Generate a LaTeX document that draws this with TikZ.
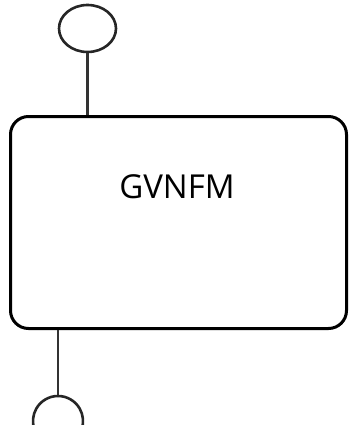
\documentclass[tikz,border=0pt]{standalone}
\usepackage{fontspec}
\setmainfont{Open Sans}
\usetikzlibrary{shapes.geometric}
\tikzset{
    iface/.style={draw=black!85, line width=2.6pt, ellipse, inner sep=0pt, minimum width=57pt, minimum height=47pt},
    vnfbox/.style={draw=black, line width=3pt, rounded corners=18pt, minimum width=336pt, minimum height=212pt},
    link/.style={draw=black!80, line width=2.6pt}
}
\begin{document}
\begin{tikzpicture}[x=1pt, y=1pt]
    \useasboundingbox (0,0) rectangle (351,-425);
    \node[vnfbox] (vnfm) at (178.5,-222.5) {};
    \node[iface] (top) at (87.5,-28.5) {};
    \node (name) at (177,-187) {\fontsize{33}{40}\selectfont GVNFM};
    \coordinate (bot) at (58,-396);
    \draw[link] (top.south) -- (top.south |- vnfm.north);
    \draw[link] (bot |- vnfm.south) -- (bot);
    \draw[link, draw=black!85] (bot) arc[start angle=90, end angle=200, radius=25];
    \draw[link, draw=black!85] (bot) arc[start angle=90, end angle=-20, radius=25];
\end{tikzpicture}
\end{document}
